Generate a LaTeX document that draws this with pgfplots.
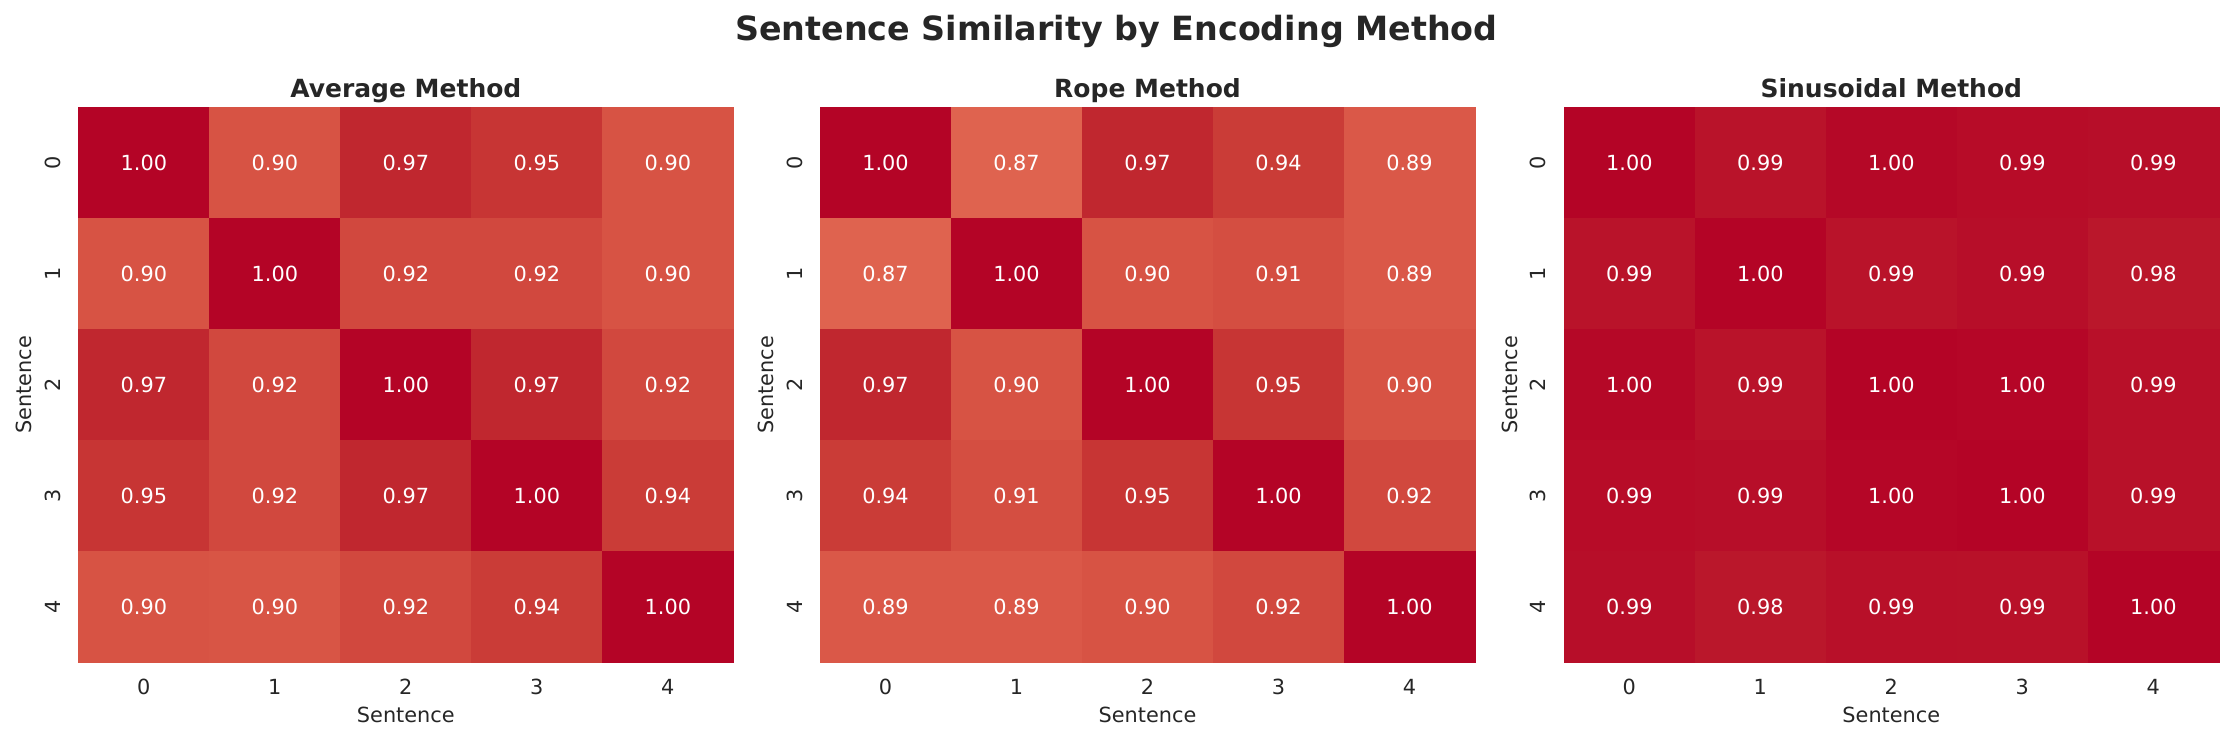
\documentclass[border=0pt]{standalone}
\usepackage{fontspec}
\setmainfont{DejaVu Sans}
\usepackage{pgfplots}
\usepackage{pgfplotstable}
\pgfplotsset{compat=1.18}
\definecolor{txt}{HTML}{262626}

\pgfplotstableread{
x y v
0 0 1.00
1 0 0.90
2 0 0.97
3 0 0.95
4 0 0.90
0 1 0.90
1 1 1.00
2 1 0.92
3 1 0.92
4 1 0.90
0 2 0.97
1 2 0.92
2 2 1.00
3 2 0.97
4 2 0.92
0 3 0.95
1 3 0.92
2 3 0.97
3 3 1.00
4 3 0.94
0 4 0.90
1 4 0.897
2 4 0.92
3 4 0.94
4 4 1.00
}\avgtab

\pgfplotstableread{
x y v
0 0 1.00
1 0 0.87
2 0 0.97
3 0 0.94
4 0 0.89
0 1 0.87
1 1 1.00
2 1 0.90
3 1 0.91
4 1 0.89
0 2 0.97
1 2 0.90
2 2 1.00
3 2 0.95
4 2 0.90
0 3 0.94
1 3 0.91
2 3 0.95
3 3 1.00
4 3 0.92
0 4 0.89
1 4 0.89
2 4 0.90
3 4 0.92
4 4 1.00
}\ropetab

\pgfplotstableread{
x y v
0 0 1.000
1 0 0.987
2 0 0.997
3 0 0.993
4 0 0.991
0 1 0.987
1 1 1.000
2 1 0.987
3 1 0.991
4 1 0.984
0 2 0.997
1 2 0.987
2 2 1.000
3 2 0.998
4 2 0.990
0 3 0.993
1 3 0.991
2 3 0.998
3 3 1.000
4 3 0.989
0 4 0.991
1 4 0.984
2 4 0.990
3 4 0.989
4 4 1.000
}\sintab

\pgfplotsset{
  /pgf/number format/assume math mode=true,
  colormap={cw}{rgb255=(236,127,99) rgb255=(229,112,88) rgb255=(222,96,77)
                rgb255=(213,80,66) rgb255=(203,62,56) rgb255=(192,40,47)
                rgb255=(180,4,38)},
  hm/.style={
    scale only axis,
    width=314.4pt, height=266.6pt,
    anchor=south west,
    xmin=-0.5, xmax=4.5, ymin=-0.5, ymax=4.5,
    y dir=reverse,
    enlargelimits=false,
    axis line style={draw=none},
    major tick length=0pt,
    xtick={0,1,2,3,4}, ytick={0,1,2,3,4},
    tick label style={font=\fontsize{10}{12}\selectfont, text=txt},
    xticklabel style={anchor=base, yshift=-15.3pt},
    yticklabel style={rotate=90, anchor=base, yshift=8.6pt},
    xlabel={Sentence}, ylabel={Sentence},
    label style={font=\fontsize{10}{12}\selectfont, text=txt},
    xlabel style={at={(axis description cs:0.5,0)}, anchor=base, yshift=-29pt},
    ylabel style={at={(axis description cs:0,0.5)}, anchor=base, yshift=22.4pt},
    title style={at={(axis description cs:0.5,1)}, anchor=base, yshift=-1.5pt,
                 font=\fontsize{12}{14}\selectfont\bfseries, text=txt},
    colormap name=cw,
    point meta min=0.8125, point meta max=1.0,
  },
  hmcells/.style={scatter, only marks, mark=square*, mark size=26.66pt,
    point meta=explicit,
    scatter/use mapped color={draw=mapped color, fill=mapped color},
    mark options={xscale=1.17929, line width=0.3pt}},
  hmannot/.style={draw=none, mark=none, point meta=explicit,
    nodes near coords={\pgfmathprintnumber[fixed, fixed zerofill, precision=2]{\pgfplotspointmeta}},
    every node near coord/.append style={anchor=center, text=white, font=\fontsize{10}{12}\selectfont}},
}

\begin{document}
\begin{tikzpicture}
\path[use as bounding box] (0,0) rectangle (1071.8pt,355.2pt);
\node[anchor=base, font=\fontsize{16}{19}\selectfont\bfseries, text=txt] at (535.9pt,335.7pt) {Sentence Similarity by Encoding Method};

\begin{axis}[hm, at={(37.6pt,37.3pt)}, title={Average Method}]
\addplot[hmcells] table[x=x, y=y, meta=v] {\avgtab};
\addplot[hmannot] table[x=x, y=y, meta=v] {\avgtab};
\end{axis}

\begin{axis}[hm, at={(393.6pt,37.3pt)}, title={Rope Method}]
\addplot[hmcells] table[x=x, y=y, meta=v] {\ropetab};
\addplot[hmannot] table[x=x, y=y, meta=v] {\ropetab};
\end{axis}

\begin{axis}[hm, at={(750.6pt,37.3pt)}, title={Sinusoidal Method}]
\addplot[hmcells] table[x=x, y=y, meta=v] {\sintab};
\addplot[hmannot] table[x=x, y=y, meta=v] {\sintab};
\end{axis}
\end{tikzpicture}
\end{document}
